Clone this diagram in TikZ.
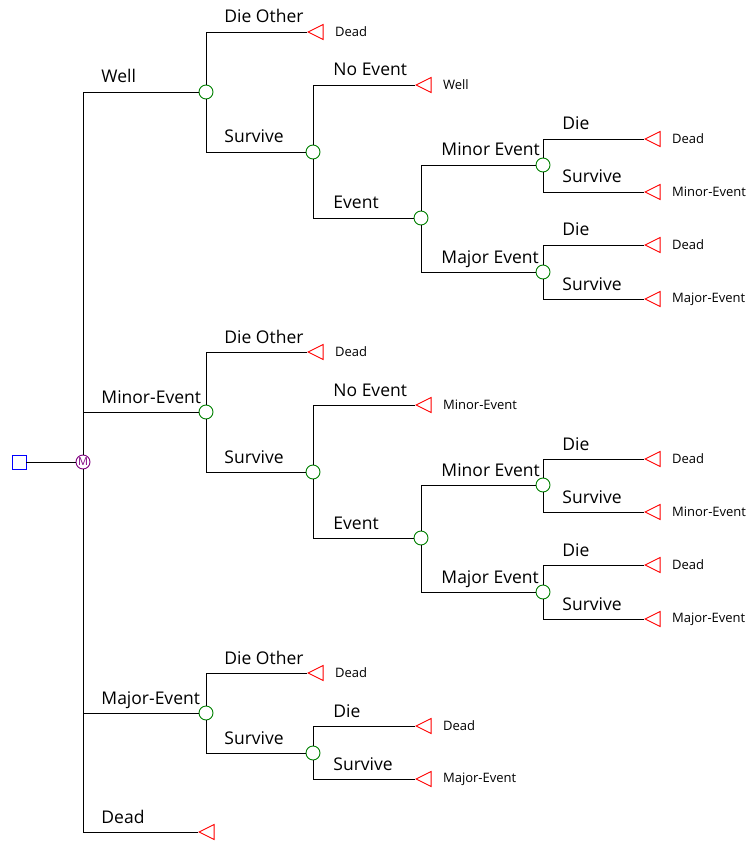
\documentclass[tikz,border=0pt]{standalone}
\usepackage{fontspec}
\setmainfont{Open Sans}
\usepackage{tikz}
\usetikzlibrary{shapes.geometric}

\begin{document}
\begin{tikzpicture}[
    x=1pt, y=-1pt,
    line width=0.9pt,
    chance/.style={circle, draw=green!50!black, fill=white, minimum size=14pt, inner sep=0pt},
    termnode/.style={isosceles triangle, shape border rotate=180, isosceles triangle stretches,
        minimum width=15pt, minimum height=15pt, inner sep=0pt, draw=red, fill=white,
        anchor=apex},
    decision/.style={rectangle, draw=blue, fill=white, minimum size=14pt, inner sep=0pt},
    markov/.style={circle, draw=violet, text=violet, fill=white, minimum size=14pt, inner sep=0pt, font=\fontsize{11}{11}\selectfont},
    branchlbl/.style={anchor=base west, inner sep=0pt, font=\fontsize{17.5}{18}\selectfont},
    endlbl/.style={inner sep=0pt, xshift=11pt, font=\fontsize{13}{14}\selectfont}
]
    \useasboundingbox (0,0) rectangle (747,842);

    % root
    \node[decision] (dec) at (19,462) {};
    \node[markov] (M) at (83,462) {M};
    \node[termnode] (tDead) at (198,832) {};

    % Well and Minor-Event states share the same subtree
    \foreach \b/\dy/\stay in {A/0/Well, B/320/Minor-Event} {
        \begin{scope}[yshift=-\dy pt]
            \node[chance] (c\b1) at (206,92) {};
            \node[chance] (c\b2) at (313,152) {};
            \node[chance] (c\b3) at (421,218) {};
            \node[chance] (c\b4) at (543,165) {};
            \node[chance] (c\b5) at (543,272) {};
            \node[termnode, label={[endlbl]right:Dead}] (t\b1) at (307,32) {};
            \node[termnode, label={[endlbl]right:\stay}] (t\b2) at (415,85) {};
            \node[termnode, label={[endlbl]right:Dead}] (t\b3) at (644,139) {};
            \node[termnode, label={[endlbl]right:Minor-Event}] (t\b4) at (644,192) {};
            \node[termnode, label={[endlbl]right:Dead}] (t\b5) at (644,245) {};
            \node[termnode, label={[endlbl]right:Major-Event}] (t\b6) at (644,299) {};

            \draw (c\b1) |- (t\b1);
            \draw (c\b1) |- (c\b2);
            \draw (c\b2) |- (t\b2);
            \draw (c\b2) |- (c\b3);
            \draw (c\b3) |- (c\b4);
            \draw (c\b3) |- (c\b5);
            \draw (c\b4) |- (t\b3);
            \draw (c\b4) |- (t\b4);
            \draw (c\b5) |- (t\b5);
            \draw (c\b5) |- (t\b6);

            \node[branchlbl] (l\b1) at (224,23) {Die Other};
            \node[branchlbl] (l\b2) at (224,143) {Survive};
            \node[branchlbl] (l\b3) at (333,76) {No Event};
            \node[branchlbl] (l\b4) at (333,209) {Event};
            \node[branchlbl] (l\b5) at (441,156) {Minor Event};
            \node[branchlbl] (l\b6) at (441,263) {Major Event};
            \node[branchlbl] (l\b7) at (562,130) {Die};
            \node[branchlbl] (l\b8) at (562,183) {Survive};
            \node[branchlbl] (l\b9) at (562,236) {Die};
            \node[branchlbl] (l\b10) at (562,290) {Survive};
        \end{scope}
    }

    % Major-Event state
    \node[chance] (cC1) at (206,713) {};
    \node[chance] (cC2) at (313,753) {};
    \node[termnode, label={[endlbl]right:Dead}] (tC1) at (307,673) {};
    \node[termnode, label={[endlbl]right:Dead}] (tC2) at (415,726) {};
    \node[termnode, label={[endlbl]right:Major-Event}] (tC3) at (415,779) {};

    \draw (cC1) |- (tC1);
    \draw (cC1) |- (cC2);
    \draw (cC2) |- (tC2);
    \draw (cC2) |- (tC3);

    \node[branchlbl] (lC1) at (224,664) {Die Other};
    \node[branchlbl] (lC2) at (224,744) {Survive};
    \node[branchlbl] (lC3) at (333,717) {Die};
    \node[branchlbl] (lC4) at (333,770) {Survive};

    % markov states
    \draw (dec) -- (M);
    \draw (M) |- (cA1);
    \draw (M) |- (cB1);
    \draw (M) |- (cC1);
    \draw (M) |- (tDead);

    \node[branchlbl] (sWell) at (101,83) {Well};
    \node[branchlbl] (sMinor) at (101,403) {Minor-Event};
    \node[branchlbl] (sMajor) at (101,704) {Major-Event};
    \node[branchlbl] (sDead) at (101,823) {Dead};
\end{tikzpicture}
\end{document}
